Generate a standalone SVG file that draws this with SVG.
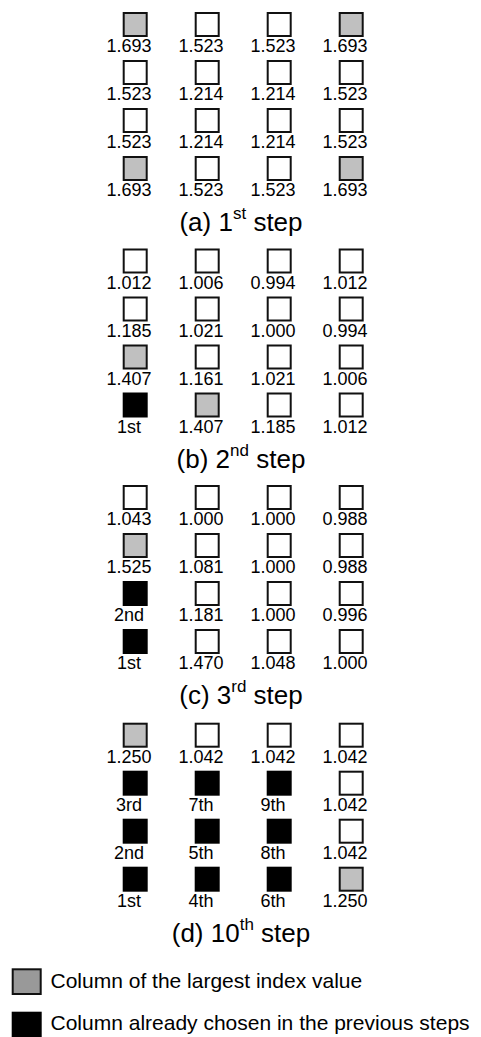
<svg xmlns="http://www.w3.org/2000/svg" width="481" height="1037" viewBox="0 0 481 1037">
<style>
.c{stroke:#111;stroke-width:2}
.w{fill:#fff}
.g{fill:#c0c0c0}
.k{fill:#000;stroke:#000;stroke-width:2}
.lg{fill:#999}
text{font-family:"Liberation Sans",Arial,sans-serif;fill:#000}
.n{font-size:18px;text-anchor:middle}
.cap{font-size:26px;text-anchor:middle}
.sup{font-size:17px}
.leg{font-size:21px}
</style>
<!-- (a) -->
<g id="sec-a" transform="translate(0,0)">
<g id="a11"><rect class="c g" x="123.7" y="13" width="23" height="23"/><text class="n" x="129" y="52">1.693</text></g>
<g id="a12"><rect class="c w" x="195.7" y="13" width="23" height="23"/><text class="n" x="201" y="52">1.523</text></g>
<g id="a13"><rect class="c w" x="267.7" y="13" width="23" height="23"/><text class="n" x="273" y="52">1.523</text></g>
<g id="a14"><rect class="c g" x="339.7" y="13" width="23" height="23"/><text class="n" x="345" y="52">1.693</text></g>
<g id="a21"><rect class="c w" x="123.7" y="61" width="23" height="23"/><text class="n" x="129" y="100">1.523</text></g>
<g id="a22"><rect class="c w" x="195.7" y="61" width="23" height="23"/><text class="n" x="201" y="100">1.214</text></g>
<g id="a23"><rect class="c w" x="267.7" y="61" width="23" height="23"/><text class="n" x="273" y="100">1.214</text></g>
<g id="a24"><rect class="c w" x="339.7" y="61" width="23" height="23"/><text class="n" x="345" y="100">1.523</text></g>
<g id="a31"><rect class="c w" x="123.7" y="109" width="23" height="23"/><text class="n" x="129" y="148">1.523</text></g>
<g id="a32"><rect class="c w" x="195.7" y="109" width="23" height="23"/><text class="n" x="201" y="148">1.214</text></g>
<g id="a33"><rect class="c w" x="267.7" y="109" width="23" height="23"/><text class="n" x="273" y="148">1.214</text></g>
<g id="a34"><rect class="c w" x="339.7" y="109" width="23" height="23"/><text class="n" x="345" y="148">1.523</text></g>
<g id="a41"><rect class="c g" x="123.7" y="157" width="23" height="23"/><text class="n" x="129" y="196">1.693</text></g>
<g id="a42"><rect class="c w" x="195.7" y="157" width="23" height="23"/><text class="n" x="201" y="196">1.523</text></g>
<g id="a43"><rect class="c w" x="267.7" y="157" width="23" height="23"/><text class="n" x="273" y="196">1.523</text></g>
<g id="a44"><rect class="c g" x="339.7" y="157" width="23" height="23"/><text class="n" x="345" y="196">1.693</text></g>
<g id="cap-a"><text class="cap" x="241" y="231">(a) 1<tspan class="sup" dy="-12">st</tspan><tspan dy="12"> step</tspan></text></g>
</g>
<!-- (b) -->
<g id="sec-b" transform="translate(0,236.5)">
<g id="b11"><rect class="c w" x="123.7" y="13" width="23" height="23"/><text class="n" x="129" y="52">1.012</text></g>
<g id="b12"><rect class="c w" x="195.7" y="13" width="23" height="23"/><text class="n" x="201" y="52">1.006</text></g>
<g id="b13"><rect class="c w" x="267.7" y="13" width="23" height="23"/><text class="n" x="273" y="52">0.994</text></g>
<g id="b14"><rect class="c w" x="339.7" y="13" width="23" height="23"/><text class="n" x="345" y="52">1.012</text></g>
<g id="b21"><rect class="c w" x="123.7" y="61" width="23" height="23"/><text class="n" x="129" y="100">1.185</text></g>
<g id="b22"><rect class="c w" x="195.7" y="61" width="23" height="23"/><text class="n" x="201" y="100">1.021</text></g>
<g id="b23"><rect class="c w" x="267.7" y="61" width="23" height="23"/><text class="n" x="273" y="100">1.000</text></g>
<g id="b24"><rect class="c w" x="339.7" y="61" width="23" height="23"/><text class="n" x="345" y="100">0.994</text></g>
<g id="b31"><rect class="c g" x="123.7" y="109" width="23" height="23"/><text class="n" x="129" y="148">1.407</text></g>
<g id="b32"><rect class="c w" x="195.7" y="109" width="23" height="23"/><text class="n" x="201" y="148">1.161</text></g>
<g id="b33"><rect class="c w" x="267.7" y="109" width="23" height="23"/><text class="n" x="273" y="148">1.021</text></g>
<g id="b34"><rect class="c w" x="339.7" y="109" width="23" height="23"/><text class="n" x="345" y="148">1.006</text></g>
<g id="b41"><rect class="k" x="123.7" y="157" width="23" height="23"/><text class="n" x="129" y="196">1st</text></g>
<g id="b42"><rect class="c g" x="195.7" y="157" width="23" height="23"/><text class="n" x="201" y="196">1.407</text></g>
<g id="b43"><rect class="c w" x="267.7" y="157" width="23" height="23"/><text class="n" x="273" y="196">1.185</text></g>
<g id="b44"><rect class="c w" x="339.7" y="157" width="23" height="23"/><text class="n" x="345" y="196">1.012</text></g>
<g id="cap-b"><text class="cap" x="241" y="231">(b) 2<tspan class="sup" dy="-12">nd</tspan><tspan dy="12"> step</tspan></text></g>
</g>
<!-- (c) -->
<g id="sec-c" transform="translate(0,473)">
<g id="c11"><rect class="c w" x="123.7" y="13" width="23" height="23"/><text class="n" x="129" y="52">1.043</text></g>
<g id="c12"><rect class="c w" x="195.7" y="13" width="23" height="23"/><text class="n" x="201" y="52">1.000</text></g>
<g id="c13"><rect class="c w" x="267.7" y="13" width="23" height="23"/><text class="n" x="273" y="52">1.000</text></g>
<g id="c14"><rect class="c w" x="339.7" y="13" width="23" height="23"/><text class="n" x="345" y="52">0.988</text></g>
<g id="c21"><rect class="c g" x="123.7" y="61" width="23" height="23"/><text class="n" x="129" y="100">1.525</text></g>
<g id="c22"><rect class="c w" x="195.7" y="61" width="23" height="23"/><text class="n" x="201" y="100">1.081</text></g>
<g id="c23"><rect class="c w" x="267.7" y="61" width="23" height="23"/><text class="n" x="273" y="100">1.000</text></g>
<g id="c24"><rect class="c w" x="339.7" y="61" width="23" height="23"/><text class="n" x="345" y="100">0.988</text></g>
<g id="c31"><rect class="k" x="123.7" y="109" width="23" height="23"/><text class="n" x="129" y="148">2nd</text></g>
<g id="c32"><rect class="c w" x="195.7" y="109" width="23" height="23"/><text class="n" x="201" y="148">1.181</text></g>
<g id="c33"><rect class="c w" x="267.7" y="109" width="23" height="23"/><text class="n" x="273" y="148">1.000</text></g>
<g id="c34"><rect class="c w" x="339.7" y="109" width="23" height="23"/><text class="n" x="345" y="148">0.996</text></g>
<g id="c41"><rect class="k" x="123.7" y="157" width="23" height="23"/><text class="n" x="129" y="196">1st</text></g>
<g id="c42"><rect class="c w" x="195.7" y="157" width="23" height="23"/><text class="n" x="201" y="196">1.470</text></g>
<g id="c43"><rect class="c w" x="267.7" y="157" width="23" height="23"/><text class="n" x="273" y="196">1.048</text></g>
<g id="c44"><rect class="c w" x="339.7" y="157" width="23" height="23"/><text class="n" x="345" y="196">1.000</text></g>
<g id="cap-c"><text class="cap" x="241" y="231">(c) 3<tspan class="sup" dy="-12">rd</tspan><tspan dy="12"> step</tspan></text></g>
</g>
<!-- (d) -->
<g id="sec-d" transform="translate(0,710.7)">
<g id="d11"><rect class="c g" x="123.7" y="13" width="23" height="23"/><text class="n" x="129" y="52">1.250</text></g>
<g id="d12"><rect class="c w" x="195.7" y="13" width="23" height="23"/><text class="n" x="201" y="52">1.042</text></g>
<g id="d13"><rect class="c w" x="267.7" y="13" width="23" height="23"/><text class="n" x="273" y="52">1.042</text></g>
<g id="d14"><rect class="c w" x="339.7" y="13" width="23" height="23"/><text class="n" x="345" y="52">1.042</text></g>
<g id="d21"><rect class="k" x="123.7" y="61" width="23" height="23"/><text class="n" x="129" y="100">3rd</text></g>
<g id="d22"><rect class="k" x="195.7" y="61" width="23" height="23"/><text class="n" x="201" y="100">7th</text></g>
<g id="d23"><rect class="k" x="267.7" y="61" width="23" height="23"/><text class="n" x="273" y="100">9th</text></g>
<g id="d24"><rect class="c w" x="339.7" y="61" width="23" height="23"/><text class="n" x="345" y="100">1.042</text></g>
<g id="d31"><rect class="k" x="123.7" y="109" width="23" height="23"/><text class="n" x="129" y="148">2nd</text></g>
<g id="d32"><rect class="k" x="195.7" y="109" width="23" height="23"/><text class="n" x="201" y="148">5th</text></g>
<g id="d33"><rect class="k" x="267.7" y="109" width="23" height="23"/><text class="n" x="273" y="148">8th</text></g>
<g id="d34"><rect class="c w" x="339.7" y="109" width="23" height="23"/><text class="n" x="345" y="148">1.042</text></g>
<g id="d41"><rect class="k" x="123.7" y="157" width="23" height="23"/><text class="n" x="129" y="196">1st</text></g>
<g id="d42"><rect class="k" x="195.7" y="157" width="23" height="23"/><text class="n" x="201" y="196">4th</text></g>
<g id="d43"><rect class="k" x="267.7" y="157" width="23" height="23"/><text class="n" x="273" y="196">6th</text></g>
<g id="d44"><rect class="c g" x="339.7" y="157" width="23" height="23"/><text class="n" x="345" y="196">1.250</text></g>
<g id="cap-d"><text class="cap" x="241" y="231">(d) 10<tspan class="sup" dy="-12">th</tspan><tspan dy="12"> step</tspan></text></g>
</g>
<!-- legend -->
<g id="legend-gray"><rect class="c lg" x="12.7" y="969.3" width="28" height="24.7"/><text class="leg" x="50.5" y="988">Column of the largest index value</text></g>
<g id="legend-black"><rect class="k" x="12.7" y="1012.7" width="28" height="26"/><text class="leg" x="50.5" y="1030">Column already chosen in the previous steps</text></g>
</svg>
